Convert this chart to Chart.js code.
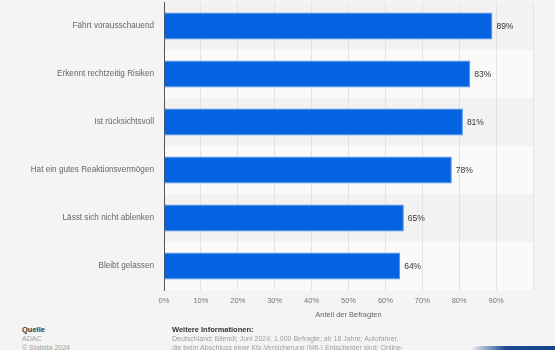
<!DOCTYPE html>
<html>
<head>
<meta charset="utf-8">
<script src="https://cdn.jsdelivr.net/npm/chart.js@4/dist/chart.umd.min.js"></script>
<style>
  html, body { margin: 0; padding: 0; background: #f4f4f4; }
  body { width: 555px; height: 350px; position: relative; overflow: hidden; font-family: "Liberation Sans", Arial, sans-serif; }
  #wrap { position: absolute; left: 0; top: 0; width: 555px; height: 325px; }
  .foot { position: absolute; font-size: 7px; line-height: 9px; color: #a0a0a0; white-space: nowrap; }
  .foot b { color: #333; font-size: 7.5px; }
  #axisTitle { position: absolute; left: 164px; width: 369px; top: 310px; text-align: center; font-size: 7.5px; color: #666; }
  #badge { position: absolute; left: 470px; top: 346px; width: 90px; height: 10px; border-top-left-radius: 12px 4px;
           background: linear-gradient(to right, rgba(30,70,140,0), #1d4a90 40%, #17428a); }
</style>
</head>
<body>
<div id="wrap"><canvas id="myChart"></canvas></div>
<div id="axisTitle">Anteil der Befragten</div>
<div class="foot" style="left:22px; top:325px;"><b>Quelle</b><br>ADAC<br>© Statista 2024</div>
<div class="foot" style="left:172px; top:325px;"><b>Weitere Informationen:</b><br>Deutschland; Bilendi; Juni 2024; 1.000 Befragte; ab 18 Jahre; Autofahrer,<br>die beim Abschluss einer Kfz-Versicherung (Mit-) Entscheider sind; Online-</div>
<div id="badge"></div>
<script>
const categories = ['Fährt vorausschauend', 'Erkennt rechtzeitig Risiken', 'Ist rücksichtsvoll',
    'Hat ein gutes Reaktionsvermögen', 'Lässt sich nicht ablenken', 'Bleibt gelassen']
const shares = [89, 83, 81, 78, 65, 64]
const xTicks = [0, 10, 20, 30, 40, 50, 60, 70, 80, 90]

// alternating row bands behind the bars
const rowBands = {
    id: 'rowBands',
    beforeDraw(chart) {
        const { ctx, chartArea, scales } = chart
        const y = scales.y
        const step = y.getPixelForValue(1) - y.getPixelForValue(0)
        ctx.save()
        for (let i = 0; i < categories.length; i++) {
            const c = y.getPixelForValue(i)
            ctx.fillStyle = i % 2 === 0 ? '#f2f2f2' : '#fafafa'
            ctx.fillRect(chartArea.left, c - step / 2, chartArea.right - chartArea.left, step)
        }
        ctx.restore()
    }
}

// value labels at bar ends
const valueLabels = {
    id: 'valueLabels',
    afterDatasetsDraw(chart) {
        const { ctx } = chart
        const meta = chart.getDatasetMeta(0)
        ctx.save()
        ctx.fillStyle = '#333'
        ctx.font = '8.5px "Liberation Sans", Arial, sans-serif'
        ctx.textBaseline = 'middle'
        meta.data.forEach((bar, i) => {
            ctx.fillText(shares[i] + '%', bar.x + 4, bar.y + 0.5)
        })
        ctx.restore()
    }
}

const ctx = document.getElementById('myChart').getContext('2d')
const myChart = new Chart(ctx, {
    type: 'bar',
    data: {
        labels: categories,
        datasets: [{
            data: shares,
            backgroundColor: '#0562e0',
            borderColor: '#4a90ef',
            borderWidth: 1,
            categoryPercentage: 1,
            barPercentage: 0.56
        }]
    },
    options: {
        indexAxis: 'y',
        responsive: true,
        maintainAspectRatio: false,
        animation: false,
        layout: { autoPadding: false, padding: { top: 2, right: 22, left: 0, bottom: 0 } },
        plugins: { legend: { display: false }, tooltip: { enabled: false } },
        scales: {
            x: {
                min: 0,
                max: 100,
                afterBuildTicks: (scale) => {
                    scale.ticks = xTicks.concat([100]).map(v => ({ value: v }))
                },
                afterFit: (scale) => { scale.height = 35 },
                grid: { color: '#e3e3e3', drawTicks: false },
                border: { display: false },
                ticks: {
                    padding: 6,
                    color: '#777',
                    font: { size: 7.5, family: '"Liberation Sans", Arial, sans-serif' },
                    callback: (v) => xTicks.includes(v) ? v + '%' : ''
                }
            },
            y: {
                afterFit: (scale) => {
                    scale.width = 164
                    scale.paddingTop = 0
                    scale.paddingBottom = 0
                },
                grid: { display: false, drawTicks: false },
                border: { display: true, color: '#555', width: 1 },
                ticks: {
                    padding: 10,
                    color: '#666',
                    font: { size: 8.2, family: '"Liberation Sans", Arial, sans-serif' }
                }
            }
        }
    },
    plugins: [rowBands, valueLabels]
})
</script>
</body>
</html>
